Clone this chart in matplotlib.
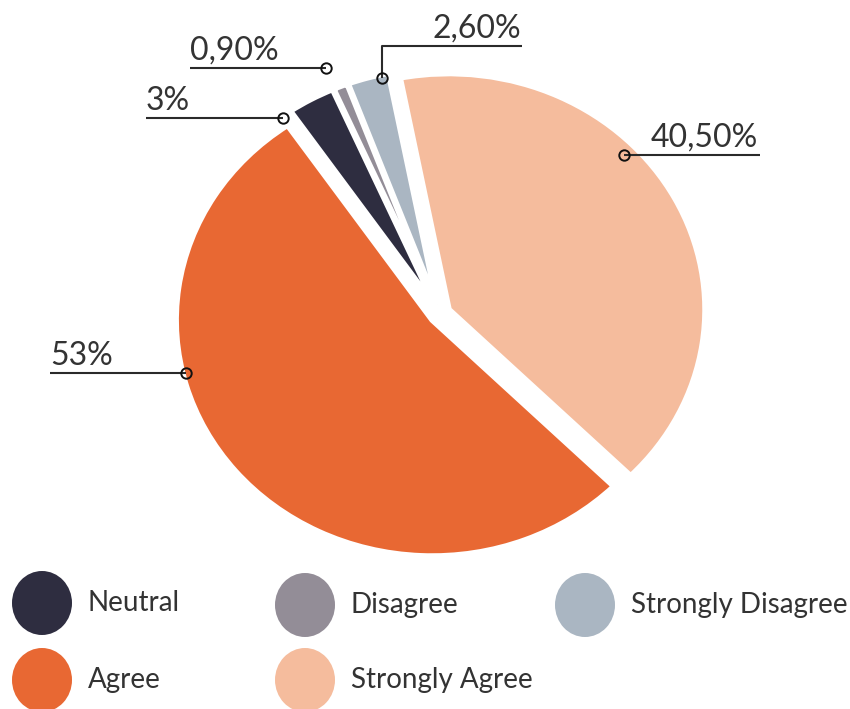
import matplotlib
matplotlib.use("Agg")
import matplotlib.pyplot as plt
from matplotlib.patches import Ellipse

# ---- data ----
categories = ["Strongly Agree", "Agree", "Neutral", "Disagree", "Strongly Disagree"]
values = [40.5, 53.0, 3.0, 0.9, 2.6]
value_labels = ["40,50%", "53%", "3%", "0,90%", "2,60%"]
colors = ["#F5BC9D", "#E86833", "#2E2D40", "#938D97", "#AAB6C2"]
legend_order = ["Neutral", "Disagree", "Strongly Disagree", "Agree", "Strongly Agree"]

W, H = 850, 709
fig = plt.figure(figsize=(W / 100, H / 100), dpi=100)

# pie axes (slightly squashed vertically, like the hand-drawn original)
pcx, pcy = 440, 314          # pixel centre (top-left origin)
rx, ry = 256, 236            # pixel radii for unit radius
lim = 1.1
pax = fig.add_axes([(pcx - lim * rx) / W, (H - pcy - lim * ry) / H,
                    2 * lim * rx / W, 2 * lim * ry / H])
pax.pie(values, colors=colors, startangle=101, counterclock=False,
        radius=1, explode=[0.04] * len(values),
        wedgeprops=dict(edgecolor="white", linewidth=4))
pax.set_xlim(-lim, lim)
pax.set_ylim(-lim, lim)
pax.set_aspect("auto")
pax.axis("off")

# overlay axes in pixel coordinates
ax = fig.add_axes([0, 0, 1, 1], facecolor="none")
ax.set_xlim(0, W)
ax.set_ylim(0, H)
ax.axis("off")

FONT = "Lato"
label_layout = {
    "40,50%": dict(path=[(624, 155), (760, 155)], text=(758, 147), ha="right"),
    "53%": dict(path=[(186, 373), (50, 373)], text=(50, 365), ha="left"),
    "3%": dict(path=[(283, 118), (146, 118)], text=(146, 110), ha="left"),
    "0,90%": dict(path=[(326, 68), (190, 68)], text=(190, 60), ha="left"),
    "2,60%": dict(path=[(382, 78), (382, 46), (522, 46)], text=(521, 38), ha="right"),
}
line_col = "#2a2a2a"
for lab in value_labels:
    L = label_layout[lab]
    xs = [p[0] for p in L["path"]]
    ys = [H - p[1] for p in L["path"]]
    ax.plot(xs, ys, color=line_col, lw=1.5, solid_capstyle="butt", zorder=5)
    ax.plot(xs[0], ys[0], "o", ms=7.5, mfc="none", mec="#111111", mew=1.4, zorder=6)
    ax.text(L["text"][0], H - L["text"][1], lab, ha=L["ha"], va="baseline",
            fontsize=23, family=FONT, fontweight="normal", color="#333333", zorder=6)

# legend
legend_pos = {
    "Neutral": (42, 603), "Disagree": (305, 605), "Strongly Disagree": (585, 605),
    "Agree": (42, 680), "Strongly Agree": (305, 680),
}
col_of = dict(zip(categories, colors))
for name in legend_order:
    cx, cy = legend_pos[name]
    ax.add_patch(Ellipse((cx, H - cy), 60, 64, facecolor=col_of[name], edgecolor="none"))
    ax.text(cx + 46, H - cy, name, ha="left", va="center", fontsize=20,
            family=FONT, fontweight="normal", color="#333333")

fig.savefig("out.png", dpi=100)
